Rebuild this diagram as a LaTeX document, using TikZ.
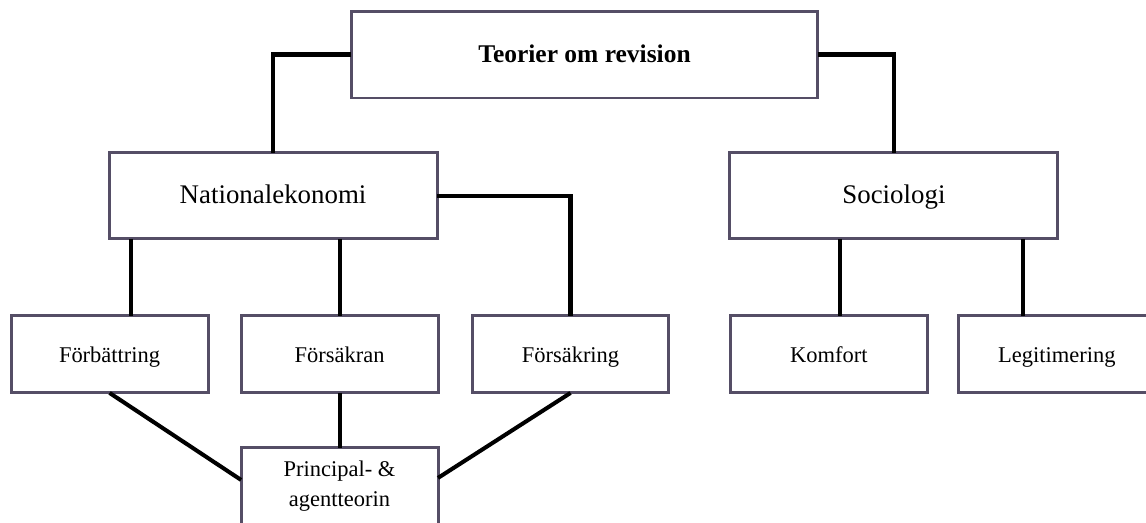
\documentclass[tikz,border=0pt]{standalone}
\usepackage{fontspec}
\setmainfont{Liberation Serif}
\usepackage{xcolor}
\usepackage{tikz}
\usetikzlibrary{positioning}
\definecolor{boxedge}{HTML}{554E66}

\begin{document}
\begin{tikzpicture}[
    x=0.02cm, y=-0.02cm,
    box/.style={rectangle, draw=boxedge, line width=1.7pt, fill=white, outer sep=0pt, align=center},
    oneline/.style={text height=1em, text depth=0.1em},
    topbox/.style={box, oneline, minimum width=9.34cm, minimum height=1.74cm, font=\fontsize{14.5}{17}\selectfont\bfseries},
    fieldbox/.style={box, oneline, minimum width=6.56cm, minimum height=1.72cm, font=\fontsize{15.3}{18}\selectfont},
    theorybox/.style={box, minimum width=3.94cm, minimum height=1.54cm, font=\fontsize{12.8}{17}\selectfont},
    link/.style={black, line width=2.3pt}
]
\useasboundingbox (0,0) rectangle (1146,522);
\clip (0,0) rectangle (1146,522);

\node[topbox] (rev) at (584.5,54.5) {Teorier om revision};
\node[fieldbox, below=1.1cm of rev, xshift=-6.23cm] (nek) {Nationalekonomi};
\node[fieldbox, below=1.1cm of rev, xshift=6.19cm] (soc) {Sociologi};
\node[theorybox, oneline, below=1.54cm of nek, xshift=-3.27cm] (forb) {Förbättring};
\node[theorybox, oneline, right=0.66cm of forb] (fkran) {Försäkran};
\node[theorybox, oneline, right=0.68cm of fkran] (fkring) {Försäkring};
\node[theorybox, oneline, below=1.54cm of soc, xshift=-1.3cm] (komf) {Komfort};
\node[theorybox, oneline, right=0.62cm of komf] (legit) {Legitimering};
\node[theorybox, below=1.1cm of fkran] (pat) {Principal- \&\\agentteorin};

\draw[link] (rev.west) -| (nek.north);
\draw[link] (rev.east) -| (soc.north);
\draw[link] ([xshift=4.3mm]forb.north |- nek.south) -- ([xshift=4.3mm]forb.north);
\draw[link] (nek.south -| fkran.north) -- (fkran.north);
\draw[link] (nek.east) -| (fkring.north);
\draw[link] ([xshift=2.2mm]komf.north |- soc.south) -- ([xshift=2.2mm]komf.north);
\draw[link] ([xshift=-6.8mm]legit.north |- soc.south) -- ([xshift=-6.8mm]legit.north);
\draw[link] (forb.south) -- ([yshift=1.3mm]pat.west);
\draw[link] (fkran.south) -- (pat.north);
\draw[link] (fkring.south) -- ([yshift=1.7mm]pat.east);
\end{tikzpicture}
\end{document}
